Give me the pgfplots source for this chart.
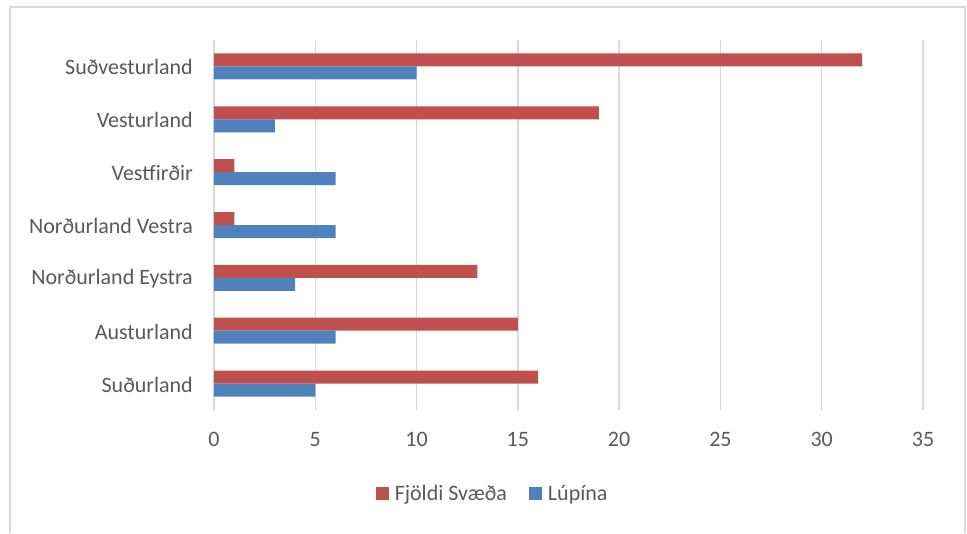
\documentclass[border=0pt]{standalone}
\usepackage{fontspec}
\setmainfont{Carlito}
\usepackage{pgfplots}
\pgfplotsset{compat=1.18}
\definecolor{svRed}{HTML}{C0504D}
\definecolor{svBlue}{HTML}{4F81BD}
\definecolor{gridGray}{HTML}{D9D9D9}
\definecolor{txtGray}{HTML}{595959}
\definecolor{frameGray}{HTML}{D9D9D9}

\begin{document}
\begin{tikzpicture}[x=1pt,y=1pt]
\path (0,0) rectangle (967,533);
\draw[frameGray, line width=1.5pt] (10,0) -- (10,526) -- (965,526) -- (965,0);

\begin{axis}[
  at={(214pt,123pt)}, anchor=south west,
  scale only axis,
  width=709pt, height=370pt,
  xbar, bar width=13pt,
  xmin=0, xmax=35,
  ymin=-0.5, ymax=6.5,
  xtick={0,5,...,35},
  ytick={0,...,6},
  yticklabels={Suðurland, Austurland, Norðurland Eystra, Norðurland Vestra, Vestfirðir, Vesturland, Suðvesturland},
  axis line style={draw=none},
  major tick length=0pt,
  xmajorgrids, grid style={gridGray, line width=1.5pt},
  font=\fontsize{22}{26}\selectfont,
  tick label style={txtGray, font=\fontsize{22}{26}\selectfont, /pgf/number format/assume math mode=true},
  y tick label style={inner sep=0pt, xshift=-21pt, yshift=-1pt},
  x tick label style={inner sep=0pt, anchor=north, yshift=-22pt},
  legend style={at={(0.393,-0.227)}, anchor=center, draw=none,
    legend columns=2, text=txtGray, font=\fontsize{22}{26}\selectfont,
    nodes={inner sep=2pt},
    /tikz/every even column/.append style={column sep=20pt}},
  legend image code/.code={%
    \fill[#1] (0pt,-6.5pt) rectangle (13pt,6.5pt);
    \path (13pt,0pt) -- (17pt,0pt);},
]
\addplot[fill=svRed, draw=none, bar shift=6.5pt]
  coordinates {(16,0) (15,1) (13,2) (1,3) (1,4) (19,5) (32,6)};
\addlegendentry{Fjöldi Svæða}
\addplot[fill=svBlue, draw=none, bar shift=-6.5pt]
  coordinates {(5,0) (6,1) (4,2) (6,3) (6,4) (3,5) (10,6)};
\addlegendentry{Lúpína}
\end{axis}
\end{tikzpicture}
\end{document}
